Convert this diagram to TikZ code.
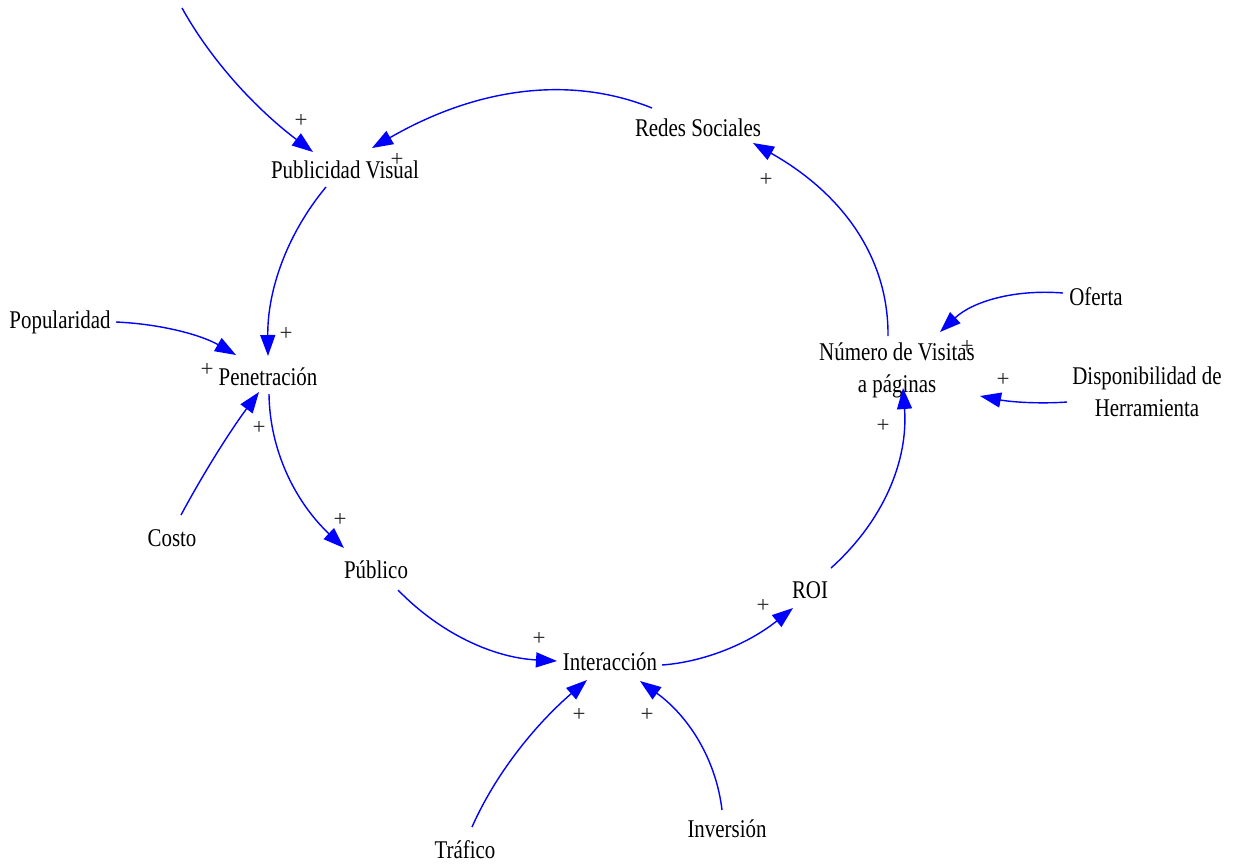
\documentclass[tikz,border=0pt]{standalone}
\usepackage{fontspec}
\setmainfont{Liberation Serif}[FakeStretch=0.82]
\newfontfamily\polfont{Liberation Serif}
\usetikzlibrary{arrows.meta,calc}
\begin{document}
\begin{tikzpicture}[x=1pt,y=-1pt,
  var/.style={inner sep=0pt, font=\fontsize{25.5}{32}\selectfont, align=center},
  lnk/.style={draw=blue, line width=1.4pt, -{Triangle[length=21pt,width=15pt]}},
  pol/.style={inner sep=0pt, font=\polfont\fontsize{23}{23}\selectfont, text=black!85}]
\useasboundingbox (0,0) rectangle (1233,863);
% variables
\node[var] (pub) at (345,170) {Publicidad Visual};
\node[var] (red) at (698,128) {Redes Sociales};
\node[var] (pen) at (268,377) {Penetración};
\node[var] (popu) at (60,322) {Popularidad};
\node[var] (cos) at (172,538) {Costo};
\node[var] (publ) at (376,570) {Público};
\node[var] (int) at (610,662) {Interacción};
\node[var] (roi) at (810,590) {ROI};
\node[var] (num) at (897,370) {Número de Visitas\\a páginas};
\node[var] (ofe) at (1096,297) {Oferta};
\node[var] (dis) at (1147,392) {Disponibilidad de\\Herramienta};
\node[var] (tra) at (465,850) {Tráfico};
\node[var] (inv) at (727,829) {Inversión};
\coordinate (top) at (182,8);
% links
\draw[lnk] (top) .. controls (211.3,60.7) and (255.7,108.7) .. ($(pub)+(-32,-18)$);
\draw[lnk] ($(red)+(-46,-20)$) .. controls (569.3,74.7) and (476,88) .. ($(pub)+(27,-22)$);
\draw[lnk] ($(pub)+(-19,17)$) .. controls (286.7,234.3) and (267.3,290.7) .. ($(pen)+(0,-21)$);
\draw[lnk] ($(popu)+(56,0)$) .. controls (161.3,324) and (201.3,335) .. ($(pen)+(-32,-22)$);
\draw[lnk] ($(cos)+(9,-23)$) .. controls (204.3,471.7) and (230.3,430.7) .. ($(pen)+(-9,15)$);
\draw[lnk] ($(pen)+(1,17)$) .. controls (269.7,450) and (294.7,501.3) .. ($(publ)+(-32,-22)$);
\draw[lnk] ($(publ)+(22,20)$) .. controls (440.7,634) and (493.7,657.7) .. ($(int)+(-53,-1)$);
\draw[lnk] ($(tra)+(7,-23)$) .. controls (494.7,775.7) and (533,726.7) .. ($(int)+(-23,18)$);
\draw[lnk] ($(inv)+(-5,-19)$) .. controls (716,759.3) and (688.7,716.3) .. ($(int)+(30,19)$);
\draw[lnk] ($(int)+(52,3)$) .. controls (706,661.7) and (749.7,642.7) .. ($(roi)+(-17,18)$);
\draw[lnk] ($(roi)+(21,-22)$) .. controls (884.3,520) and (908.3,460) .. ($(num)+(6,18)$);
\draw[lnk] ($(dis)+(-80,10)$) .. controls (1039.7,404) and (1010.7,402) .. ($(num)+(83,26)$);
\draw[lnk] ($(ofe)+(-33,-4)$) .. controls (1013,289) and (972,302) .. ($(num)+(43,-38)$);
\draw[lnk] ($(num)+(-9,-34)$) .. controls (888.7,258.7) and (843.7,194.3) .. ($(red)+(55,15)$);
% polarities
\node[pol] (p1) at (301,121) {+};
\node[pol] (p2) at (397,160) {+};
\node[pol] (p3) at (286,334) {+};
\node[pol] (p4) at (207,370) {+};
\node[pol] (p5) at (259,428) {+};
\node[pol] (p6) at (340,520) {+};
\node[pol] (p7) at (539,639) {+};
\node[pol] (p8) at (579,715) {+};
\node[pol] (p9) at (647,715) {+};
\node[pol] (p10) at (763,606) {+};
\node[pol] (p11) at (883,426) {+};
\node[pol] (p12) at (1003,380) {+};
\node[pol] (p13) at (967,347) {+};
\node[pol] (p14) at (766,180) {+};
\end{tikzpicture}
\end{document}
